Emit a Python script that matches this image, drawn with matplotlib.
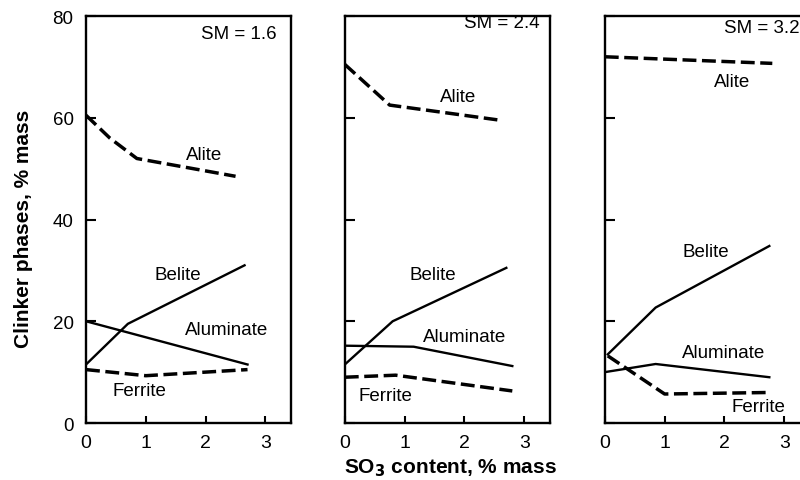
import matplotlib
matplotlib.use('Agg')
import matplotlib.pyplot as plt

plt.rcParams['font.family'] = ['Liberation Sans', 'DejaVu Sans']

# SO3 content (x) and phase amounts (y), per silica modulus
sm_labels = ['SM = 1.6', 'SM = 2.4', 'SM = 3.2']

alite_x = [[0, 0.4, 0.85, 2.5], [0, 0.75, 2.55], [0, 2.8]]
alite_y = [[60.5, 56, 52, 48.5], [70.5, 62.5, 59.6], [72, 70.7]]

belite_x = [[0, 0.7, 2.65], [0, 0.8, 2.7], [0.05, 0.85, 2.75]]
belite_y = [[11.5, 19.5, 31], [11.5, 20, 30.5], [13.5, 22.7, 34.8]]

aluminate_x = [[0, 2.7], [0, 1.15, 2.8], [0, 0.85, 2.75]]
aluminate_y = [[20, 11.5], [15.2, 15, 11.2], [10, 11.6, 9]]

ferrite_x = [[0, 1.0, 2.7], [0, 0.85, 2.8], [0.05, 1.0, 2.75]]
ferrite_y = [[10.5, 9.3, 10.5], [9, 9.4, 6.3], [13.2, 5.7, 6.0]]

# label positions (data coords) for each panel
alite_lbl = [(1.98, 52.7), (1.89, 64.2), (2.12, 67.1)]
belite_lbl = [(1.53, 29.2), (1.47, 29.2), (1.69, 33.8)]
aluminate_lbl = [(2.35, 18.4), (2.0, 17.1), (1.98, 13.9)]
ferrite_lbl = [(0.9, 6.3), (0.68, 5.4), (2.57, 3.3)]
sm_pos = [(0.927, 0.956), (0.949, 0.985), (0.949, 0.972)]

fig = plt.figure(figsize=(8, 4.81), dpi=100)
lefts = [0.1075, 0.431, 0.756]
for i in range(3):
    ax = fig.add_axes([lefts[i], 0.1185, 0.2565, 0.846])
    ax.plot(alite_x[i], alite_y[i], color='k', lw=2.5, ls=(0, (4, 1.6)))
    ax.plot(ferrite_x[i], ferrite_y[i], color='k', lw=2.5, ls=(0, (4, 1.6)))
    ax.plot(belite_x[i], belite_y[i], color='k', lw=1.7)
    ax.plot(aluminate_x[i], aluminate_y[i], color='k', lw=1.7)

    fs = 13.5
    ax.text(*alite_lbl[i], 'Alite', fontsize=fs, ha='center', va='center')
    ax.text(*belite_lbl[i], 'Belite', fontsize=fs, ha='center', va='center')
    ax.text(*aluminate_lbl[i], 'Aluminate', fontsize=fs, ha='center', va='center')
    ax.text(*ferrite_lbl[i], 'Ferrite', fontsize=fs, ha='center', va='center')
    ax.text(*sm_pos[i], sm_labels[i], fontsize=13.5, ha='right', va='center',
            transform=ax.transAxes)

    ax.set_xlim(0, 3.43)
    ax.set_ylim(0, 80)
    ax.set_xticks([0, 1, 2, 3])
    ax.set_yticks([0, 20, 40, 60, 80])
    ax.tick_params(axis='x', direction='in', length=5, width=1.5, pad=8,
                   labelsize=14)
    ax.tick_params(axis='y', direction='in', length=7, width=1.5, pad=9,
                   labelsize=13.5)
    if i > 0:
        ax.set_yticklabels([])
    for s in ax.spines.values():
        s.set_linewidth(1.7)

fig.text(0.03, 0.525, 'Clinker phases, % mass', rotation=90, fontsize=15,
         fontweight='bold', ha='center', va='center')
fig.text(0.563, 0.027, 'SO$_\\mathbf{3}$ content, % mass', fontsize=15,
         fontweight='bold', ha='center', va='center')

fig.savefig('out.png', dpi=100)
